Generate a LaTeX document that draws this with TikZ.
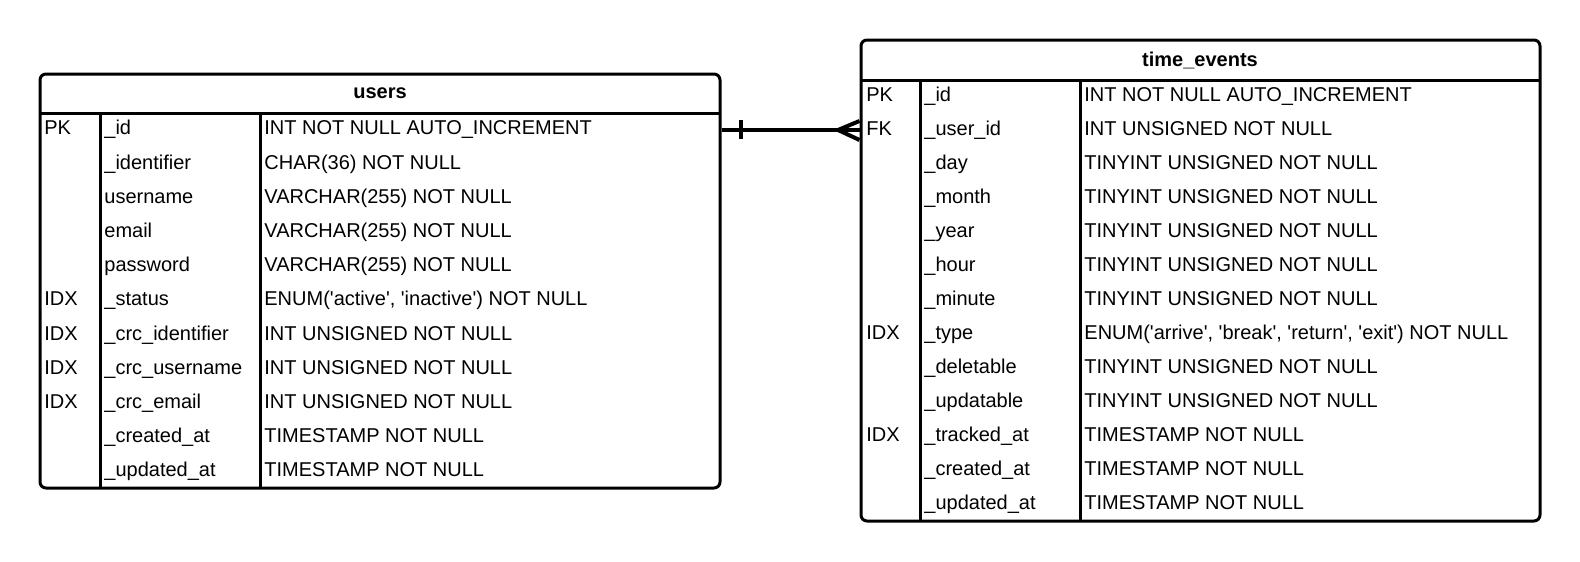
\documentclass[tikz,border=0pt]{standalone}
\usepackage{fontspec}
\setmainfont{Liberation Sans}
\usetikzlibrary{fit}
\newcommand\erow[5]{%
  \pgfmathsetmacro\yb{\tY+(#2-0.5)*\tH+4.2}%
  \node[cell] (#1k#2) at (\tA,\yb) {#3};
  \node[cell] (#1f#2) at (\tB,\yb) {#4};
  \node[cell] (#1t#2) at (\tC,\yb) {#5};
}
\newcommand\q{\textquotesingle}
\begin{document}
\begin{tikzpicture}[x=0.5pt,y=-0.5pt,
  font=\fontsize{10}{12}\selectfont,
  tbl/.style={draw, line width=1.5pt, rounded corners=3pt, inner sep=0pt},
  ln/.style={line width=1.5pt},
  rel/.style={line width=2pt},
  cell/.style={anchor=base west, inner sep=0pt},
  hdr/.style={font=\fontsize{10}{12}\selectfont\bfseries, inner sep=0pt}]
\useasboundingbox (0,0) rectangle (1580,562);
% users table
\node[tbl, fit={(40,74) (720,488)}] (users) {};
\draw[ln] (40,113.5) -- (720,113.5);
\draw[ln] (100.5,113.5) -- (100.5,488);
\draw[ln] (260,113.5) -- (260,488);
\node[hdr] (usershdr) at (380,93) {users};
\def\tA{44}\def\tB{104}\def\tC{264}\def\tY{113.5}\def\tH{34.2}
\erow{u}{1}{PK}{\_id}{INT NOT NULL AUTO\_INCREMENT}
\erow{u}{2}{}{\_identifier}{CHAR(36) NOT NULL}
\erow{u}{3}{}{username}{VARCHAR(255) NOT NULL}
\erow{u}{4}{}{email}{VARCHAR(255) NOT NULL}
\erow{u}{5}{}{password}{VARCHAR(255) NOT NULL}
\erow{u}{6}{IDX}{\_status}{ENUM(\q active\q, \q inactive\q) NOT NULL}
\erow{u}{7}{IDX}{\_crc\_identifier}{INT UNSIGNED NOT NULL}
\erow{u}{8}{IDX}{\_crc\_username}{INT UNSIGNED NOT NULL}
\erow{u}{9}{IDX}{\_crc\_email}{INT UNSIGNED NOT NULL}
\erow{u}{10}{}{\_created\_at}{TIMESTAMP NOT NULL}
\erow{u}{11}{}{\_updated\_at}{TIMESTAMP NOT NULL}
% time_events table
\node[tbl, fit={(861,40) (1540,521)}] (tevents) {};
\draw[ln] (861,80.5) -- (1540,80.5);
\draw[ln] (920,80.5) -- (920,521);
\draw[ln] (1080.5,80.5) -- (1080.5,521);
\node[hdr] (teventshdr) at (1200,60) {time\_events};
\def\tA{866}\def\tB{924}\def\tC{1084}\def\tY{80.5}\def\tH{34}
\erow{t}{1}{PK}{\_id}{INT NOT NULL AUTO\_INCREMENT}
\erow{t}{2}{FK}{\_user\_id}{INT UNSIGNED NOT NULL}
\erow{t}{3}{}{\_day}{TINYINT UNSIGNED NOT NULL}
\erow{t}{4}{}{\_month}{TINYINT UNSIGNED NOT NULL}
\erow{t}{5}{}{\_year}{TINYINT UNSIGNED NOT NULL}
\erow{t}{6}{}{\_hour}{TINYINT UNSIGNED NOT NULL}
\erow{t}{7}{}{\_minute}{TINYINT UNSIGNED NOT NULL}
\erow{t}{8}{IDX}{\_type}{ENUM(\q arrive\q, \q break\q, \q return\q, \q exit\q) NOT NULL}
\erow{t}{9}{}{\_deletable}{TINYINT UNSIGNED NOT NULL}
\erow{t}{10}{}{\_updatable}{TINYINT UNSIGNED NOT NULL}
\erow{t}{11}{IDX}{\_tracked\_at}{TIMESTAMP NOT NULL}
\erow{t}{12}{}{\_created\_at}{TIMESTAMP NOT NULL}
\erow{t}{13}{}{\_updated\_at}{TIMESTAMP NOT NULL}
% relationship
\coordinate (crow) at (838,130);
\draw[rel] (users.east |- crow) -- (tevents.west |- crow);
\draw[rel] (741,120) -- (741,139);
\draw[rel] (tevents.west |- 0,121) -- (crow) -- (tevents.west |- 0,140);
\end{tikzpicture}
\end{document}
